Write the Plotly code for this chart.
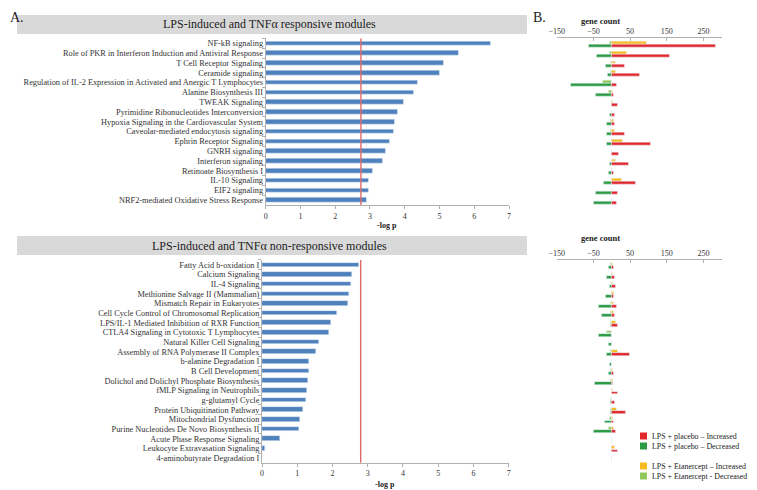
import plotly.graph_objects as go

# the page body keeps its default 8px margin, so the figure is drawn 8px in
# from the window's top-left corner; coordinates below are window pixels
OFF = 8
W, H = 757 - OFF, 490 - OFF

# ---- panel A data (-log p) ----
top_pathways = [
    "NF-kB signaling",
    "Role of PKR in Interferon Induction and Antiviral Response",
    "T Cell Receptor Signaling",
    "Ceramide signaling",
    "Regulation of IL-2 Expression in Activated and Anergic T Lymphocytes",
    "Alanine Biosynthesis III",
    "TWEAK Signaling",
    "Pyrimidine Ribonucleotides Interconversion",
    "Hypoxia Signaling in the Cardiovascular System",
    "Caveolar-mediated endocytosis signaling",
    "Ephrin Receptor Signaling",
    "GNRH signaling",
    "Interferon signaling",
    "Retinoate Biosynthesis I",
    "IL-10 Signaling",
    "EIF2 signaling",
    "NRF2-mediated Oxidative Stress Response",
]
top_logp = [6.47, 5.54, 5.11, 5.01, 4.37, 4.27, 3.98, 3.81, 3.71, 3.67,
            3.58, 3.44, 3.38, 3.09, 2.97, 2.95, 2.91]
top_threshold = 2.74

bottom_pathways = [
    "Fatty Acid b-oxidation I",
    "Calcium Signaling",
    "IL-4 Signaling",
    "Methionine Salvage II (Mammalian)",
    "Mismatch Repair in Eukaryotes",
    "Cell Cycle Control of Chromosomal Replication",
    "LPS/IL-1 Mediated Inhibition of RXR Function",
    "CTLA4 Signaling in Cytotoxic T Lymphocytes",
    "Natural Killer Cell Signaling",
    "Assembly of RNA Polymerase II Complex",
    "b-alanine Degradation I",
    "B Cell Development",
    "Dolichol and Dolichyl Phosphate Biosynthesis",
    "fMLP Signaling in Neutrophils",
    "g-glutamyl Cycle",
    "Protein Ubiquitination Pathway",
    "Mitochondrial Dysfunction",
    "Purine Nucleotides De Novo Biosynthesis II",
    "Acute Phase Response Signaling",
    "Leukocyte Extravasation Signaling",
    "4-aminobutyrate Degradation I",
]
bottom_logp = [2.74, 2.56, 2.52, 2.46, 2.45, 2.14, 1.95, 1.89, 1.63, 1.53,
               1.32, 1.32, 1.31, 1.28, 1.25, 1.15, 1.07, 1.05, 0.52, 0.08, 0.01]
bottom_threshold = 2.80

# ---- panel B data (gene count) ----
top_eta_dec = [-7, -5, -2, -2, -26, -9, 0, -1, -2, -2, -1, 0, -1, 0, -1, -1, -1]
top_eta_inc = [94, 42, 12, 12, 0, 2, 3, 0, 4, 9, 31, 1, 11, 0, 28, 0, 0]
top_pla_dec = [-64, -40, -16, -10, -111, -43, 0, -5, -15, -13, -14, 0, -5, -9, -21, -43, -48]
top_pla_inc = [284, 159, 36, 75, 14, 5, 16, 9, 8, 34, 105, 20, 47, 4, 65, 15, 14]

bottom_eta_dec = [-2, -1, -1, -1, -2, -2, -2, -13, 0, -2, 0, -2, -3, 0, -2, -2, -5, -8, -1, -1, -1]
bottom_eta_inc = [2, 2, 3, 6, 6, 4, 10, 0, 0, 15, 0, 2, 3, 2, 0, 13, 3, 4, 0, 8, 0]
bottom_pla_dec = [-8, -15, -6, -16, -35, -28, -3, -36, -8, -15, -6, -8, -47, 0, -4, -3, -20, -49, 0, 0, 0]
bottom_pla_inc = [4, 9, 10, 6, 13, 7, 17, 0, 0, 48, 0, 5, 2, 16, 7, 37, 5, 12, 0, 17, 0]

legend_names = [
    "LPS + placebo \u2013 Increased",
    "LPS + placebo \u2013 Decreased",
    "LPS + Etanercept \u2013 Increased",
    "LPS + Etanercept - Decreased",
]

SERIF = "Liberation Serif, Times New Roman, serif"
BLUE = "#4f81bd"
RED = "#e1272c"
DGREEN = "#2b9a43"
YELLOW = "#f7bb22"
LGREEN = "#91c85b"
THRESH = "#e06a6a"
AXIS = "#b0b0b0"


def px_x(p):
    return (p - OFF) / W


def px_y(p):
    return 1 - (p - OFF) / H


fig = go.Figure()

# panel A bars
fig.add_trace(go.Bar(x=top_logp, y=top_pathways, orientation="h", marker_color=BLUE,
                     width=0.48, xaxis="x", yaxis="y"))
fig.add_trace(go.Bar(x=bottom_logp, y=bottom_pathways, orientation="h", marker_color=BLUE,
                     width=0.48, xaxis="x2", yaxis="y2"))

# panel B bars: etanercept row on top, placebo row below
def add_counts(cats, eta_dec, eta_inc, pla_dec, pla_inc, xa, ya):
    for vals, color, off in [(eta_dec, LGREEN, -0.2), (eta_inc, YELLOW, -0.2),
                             (pla_dec, DGREEN, 0.12), (pla_inc, RED, 0.12)]:
        fig.add_trace(go.Bar(x=vals, y=cats, orientation="h", marker_color=color,
                             offset=off, width=0.3, xaxis=xa, yaxis=ya))


add_counts(top_pathways, top_eta_dec, top_eta_inc, top_pla_dec, top_pla_inc, "x3", "y3")
add_counts(bottom_pathways, bottom_eta_dec, bottom_eta_inc, bottom_pla_dec, bottom_pla_inc, "x4", "y4")

tick_font = dict(family=SERIF, size=8, color="#333")
cat_font = dict(family=SERIF, size=8.3, color="#333")

a_x = dict(range=[0, 7], dtick=1, showline=True, linecolor=AXIS, ticks="outside",
           ticklen=3, tickcolor=AXIS, tickfont=tick_font, showgrid=False, zeroline=False,
           automargin=False)
b_x = dict(range=[-150, 300], tickvals=[-150, -50, 50, 150, 250], side="top",
           showline=True, linecolor=AXIS, ticks="inside", ticklen=3, tickcolor=AXIS,
           tickfont=tick_font, showgrid=False, zeroline=False, automargin=False)


def a_y(cats, dom):
    return dict(domain=dom, type="category", categoryorder="array", categoryarray=cats,
                range=[len(cats) - 0.5, -0.5], dtick=1, showline=True, linecolor=AXIS,
                ticks="outside", tickson="boundaries", ticklen=3, tickcolor=AXIS,
                tickfont=cat_font, showgrid=False, automargin=False)


def b_y(cats, dom):
    return dict(domain=dom, type="category", categoryorder="array", categoryarray=cats,
                range=[len(cats) - 0.5, -0.5], showticklabels=False, showline=False,
                showgrid=False, ticks="", automargin=False)


top_dom = [px_y(205), px_y(38.4)]
bot_dom = [px_y(462.8), px_y(259.9)]

fig.update_layout(
    width=W, height=H,
    margin=dict(l=0, r=0, t=0, b=0, pad=0),
    paper_bgcolor="white", plot_bgcolor="white",
    showlegend=False, barmode="overlay", bargap=0,
    font=dict(family=SERIF, color="#333"),
    xaxis=dict(a_x, domain=[px_x(265.7), px_x(509)], anchor="y"),
    yaxis=a_y(top_pathways, top_dom) | dict(anchor="x"),
    xaxis2=dict(a_x, domain=[px_x(262), px_x(508.7)], anchor="y2"),
    yaxis2=a_y(bottom_pathways, bot_dom) | dict(anchor="x2"),
    xaxis3=dict(b_x, domain=[px_x(556.7), px_x(721.9)], anchor="y3"),
    yaxis3=b_y(top_pathways, top_dom) | dict(anchor="x3"),
    xaxis4=dict(b_x, domain=[px_x(556.7), px_x(721.9)], anchor="y4"),
    yaxis4=b_y(bottom_pathways, bot_dom) | dict(anchor="x4"),
)

shapes = []
annotations = []

# header boxes and titles
for y0, y1, title in [(15, 34, "LPS-induced and TNF\u03b1 responsive modules"),
                      (236, 255, "LPS-induced and TNF\u03b1 non-responsive modules")]:
    shapes.append(dict(type="rect", xref="paper", yref="paper", x0=px_x(17), x1=px_x(527),
                       y0=px_y(y1), y1=px_y(y0), fillcolor="#d9d9d9", line_width=0, layer="below"))
    annotations.append(dict(text=title, x=px_x(269), y=px_y((y0 + y1) / 2),
                            font=dict(family=SERIF, size=12, color="#222")))

# threshold lines
for xa, ya, thr in [("x", "y", top_threshold), ("x2", "y2", bottom_threshold)]:
    shapes.append(dict(type="line", xref=xa, yref=ya + " domain", x0=thr, x1=thr, y0=0, y1=1,
                       line=dict(color=THRESH, width=1.4)))

# panel letters and axis titles
annotations += [
    dict(text="A.", x=px_x(OFF), y=px_y(OFF), xanchor="left", yanchor="top",
         font=dict(size=14, color="#222")),
    dict(text="B.", x=px_x(531), y=px_y(OFF), xanchor="left", yanchor="top",
         font=dict(size=14, color="#222")),
    dict(text="<b>-log p</b>", x=px_x(387), y=px_y(226), font=dict(size=8, color="#222")),
    dict(text="<b>-log p</b>", x=px_x(385), y=px_y(484), font=dict(size=8, color="#222")),
    dict(text="<b>gene count</b>", x=px_x(600), y=px_y(21), font=dict(size=8.5, color="#222")),
    dict(text="<b>gene count</b>", x=px_x(600), y=px_y(238), font=dict(size=8.5, color="#222")),
]

# legend drawn by hand
for name, color, cy in zip(legend_names, [RED, DGREEN, YELLOW, LGREEN], [436, 446, 466, 476]):
    shapes.append(dict(type="rect", xref="paper", yref="paper", x0=px_x(640), x1=px_x(647),
                       y0=px_y(cy + 3.5), y1=px_y(cy - 3.5), fillcolor=color, line_width=0))
    annotations.append(dict(text=name, x=px_x(650), y=px_y(cy), xanchor="left",
                            font=dict(size=7.9, color="#222")))

for a in annotations:
    a.setdefault("xref", "paper")
    a.setdefault("yref", "paper")
    a.setdefault("xanchor", "center")
    a.setdefault("yanchor", "middle")
    a.setdefault("showarrow", False)

fig.update_layout(shapes=shapes, annotations=annotations)

fig.write_html("out.html")
